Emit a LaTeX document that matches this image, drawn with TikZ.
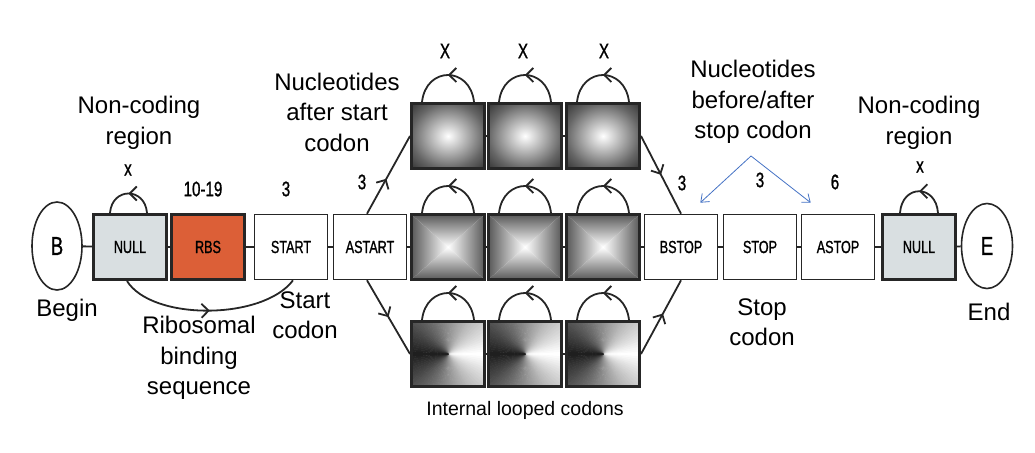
\documentclass[tikz,border=0pt]{standalone}
\usepackage{fontspec}
\setmainfont{Liberation Sans}
\newfontfamily\boxfont[FakeStretch=0.72,FakeBold=1]{Liberation Sans}
\usetikzlibrary{arrows.meta,decorations.markings,shapes.geometric}

\definecolor{nullgray}{RGB}{217,223,225}
\definecolor{rbsorange}{RGB}{220,95,55}
\definecolor{edgedark}{RGB}{38,38,38}
\definecolor{noteblue}{RGB}{68,114,196}

\pgfdeclareradialshading{codonglow}{\pgfpoint{0bp}{0bp}}{color(0bp)=(white); color(5bp)=(white!88!black); color(25bp)=(white!40!black); color(35bp)=(white!22!black); color(50bp)=(white!22!black)}

\tikzset{
  statebox/.style={draw=edgedark, line width=1.6pt, minimum width=73pt, minimum height=65pt,
    inner sep=0pt, font=\boxfont\fontsize{17.5}{17.5}\selectfont},
  heavy/.style={statebox, line width=3pt},
  term/.style={draw=edgedark, ellipse, line width=1.6pt, inner sep=0pt, font=\boxfont\fontsize{26}{26}\selectfont},
  glow/.style={heavy, shade, shading=codonglow},
  pyramid/.style={heavy, path picture={
    \coordinate (pc) at (path picture bounding box.center);
    \coordinate (pnw) at (path picture bounding box.north west);
    \coordinate (pne) at (path picture bounding box.north east);
    \coordinate (psw) at (path picture bounding box.south west);
    \coordinate (pse) at (path picture bounding box.south east);
    \begin{scope}
      \clip (pc) -- (pnw) -- (pne) -- cycle;
      \shade[top color=white!35!black, bottom color=white] (pnw) rectangle (pc -| pne);
    \end{scope}
    \begin{scope}
      \clip (pc) -- (psw) -- (pse) -- cycle;
      \shade[top color=white, bottom color=white!35!black] (pc -| psw) rectangle (pse);
    \end{scope}
    \begin{scope}
      \clip (pc) -- (pnw) -- (psw) -- cycle;
      \shade[left color=white!35!black, right color=white] (pnw) rectangle (pc |- psw);
    \end{scope}
    \begin{scope}
      \clip (pc) -- (pne) -- (pse) -- cycle;
      \shade[left color=white, right color=white!35!black] (pc |- pne) rectangle (pse);
    \end{scope}
  }},
  conic/.style={heavy, path picture={
    \coordinate (pc) at (path picture bounding box.center);
    \foreach \a in {0,4,...,176}{
      \pgfmathtruncatemacro\g{100-\a/2}
      \fill[white!\g!black, draw=white!\g!black, line width=0.4pt, line join=round]
        (pc) -- +(\a:60) -- +(\a+4:60) -- cycle;
      \fill[white!\g!black, draw=white!\g!black, line width=0.4pt, line join=round]
        (pc) -- +(-\a:60) -- +(-\a-4:60) -- cycle;
    }
  }},
  link/.style={draw=edgedark, line width=1.8pt},
  midarrow/.style={postaction={decorate, decoration={markings,
    mark=at position #1 with {\arrow{Straight Barb[length=7pt, width=14pt]}}}}},
  note/.style={draw=noteblue, line width=0.8pt, -{Straight Barb[length=7pt, width=11pt]}},
  caption/.style={align=center, font=\fontsize{24}{30.5}\selectfont},
  count/.style={font=\boxfont\fontsize{21}{21}\selectfont},
}

\begin{document}
\begin{tikzpicture}[x=1pt,y=-1pt]
\useasboundingbox (0,0) rectangle (1035,452);
\def\midy{247}
\def\topy{136}
\def\boty{354}

% main chain
\node[term, minimum width=50pt, minimum height=88pt] (begin) at (57,246) {B};
\node[heavy, fill=nullgray] (null1) at (130,\midy) {NULL};
\node[heavy, fill=rbsorange] (rbs) at (208,\midy) {RBS};
\node[statebox] (start) at (291,\midy) {START};
\node[statebox] (astart) at (370,\midy) {ASTART};
\node[pyramid] (mid1) at (448,\midy) {};
\node[pyramid] (mid2) at (525,\midy) {};
\node[pyramid] (mid3) at (603,\midy) {};
\node[statebox] (bstop) at (681,\midy) {BSTOP};
\node[statebox] (stop) at (760,\midy) {STOP};
\node[statebox] (astop) at (838,\midy) {ASTOP};
\node[heavy, fill=nullgray] (null2) at (919,\midy) {NULL};
\node[term, minimum width=51pt, minimum height=85pt] (finish) at (987,246) {E};

% looped codons, upper and lower rows
\node[glow] (top1) at (448,\topy) {};
\node[glow] (top2) at (525,\topy) {};
\node[glow] (top3) at (603,\topy) {};
\node[conic] (bot1) at (448,\boty) {};
\node[conic] (bot2) at (525,\boty) {};
\node[conic] (bot3) at (603,\boty) {};

\foreach \a/\b in {begin/null1,null1/rbs,rbs/start,start/astart,astart/mid1,mid1/mid2,mid2/mid3,
    mid3/bstop,bstop/stop,stop/astop,astop/null2,null2/finish,top1/top2,top2/top3,bot1/bot2,bot2/bot3}
  \draw[link] (\a) -- (\b);

\draw[link, midarrow=0.45] ([xshift=-3pt]astart.north) -- (top1.west);
\draw[link, midarrow=0.5] ([xshift=-3pt]astart.south) -- (bot1.west);
\draw[link, midarrow=0.5] (top3.east) -- (bstop.north);
\draw[link, midarrow=0.55] (bot3.east) -- (bstop.south);

% self loops
\foreach \n in {top1,top2,top3,mid1,mid2,mid3,bot1,bot2,bot3}
  \draw[link, midarrow=0.5] ([xshift=-12pt]\n.north east) .. controls +(-4,-36) and +(4,-36) .. ([xshift=12pt]\n.north west);
\draw[link, midarrow=0.5] ([xshift=-21pt]null1.north east) .. controls +(-2,-26) and +(2,-26) .. ([xshift=18pt]null1.north west);
\draw[link, midarrow=0.5] ([xshift=-19pt]null2.north east) .. controls +(-2,-29) and +(2,-29) .. ([xshift=19pt]null2.north west);

% skip over the RBS
\draw[link, midarrow=0.5] ([xshift=-3pt]null1.south) .. controls +(25,40) and +(-30,40) .. ([xshift=2pt]start.south);

% lengths
\node[count] (nrbs) at (203,189) {10-19};
\node[count] (nstart) at (286,189) {3};
\node[count] (nastart) at (362,182) {3};
\node[count] (nbstop) at (682,183) {3};
\node[count] (nstop) at (760,180) {3};
\node[count] (nastop) at (835,182) {6};
\node[count] (xnull1) at (128,170) {x};
\node[count] (xnull2) at (920,167) {x};
\node[count] (xtop1) at (445,51) {X};
\node[count] (xtop2) at (523,51) {X};
\node[count] (xtop3) at (604,51) {X};

% captions
\node[caption] (ncleft) at (139,123) {Non-coding\\region};
\node[caption] (lbegin) at (67,310) {Begin};
\node[caption] (lrbs) at (199,358) {Ribosomal\\binding\\sequence};
\node[caption] (lstart) at (305,315) {Start\\codon};
\node[caption] (lafter) at (337,112) {Nucleotides\\after start\\codon};
\node[caption] (laround) at (753,102) {Nucleotides\\before/after\\stop codon};
\node[caption] (ncright) at (919,123) {Non-coding\\region};
\node[caption] (lstop) at (762,322) {Stop\\codon};
\node[caption] (lend) at (989,312) {End};
\node[font=\fontsize{19.5}{19.5}\selectfont] (lloop) at (525,410) {Internal looped codons};

\coordinate (fork) at (751,156);
\draw[note] (fork) -- ([xshift=-18pt,yshift=11pt]bstop.north east);
\draw[note] (fork) -- ([xshift=10pt,yshift=11pt]astop.north west);
\end{tikzpicture}
\end{document}
